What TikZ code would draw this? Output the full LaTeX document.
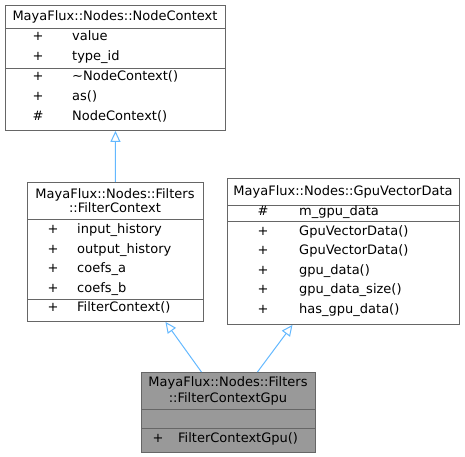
\documentclass[tikz,border=0pt]{standalone}
\usepackage{fontspec}
\setmainfont{DejaVu Sans}
\usetikzlibrary{arrows.meta}
\definecolor{edgeblue}{HTML}{63B8FF}
\definecolor{boxborder}{HTML}{666666}
\definecolor{boxgray}{HTML}{999999}
\tikzset{
  umlbox/.style={draw=boxborder, line width=0.9bp, fill=white, anchor=north west, inner sep=0pt},
  umlsel/.style={umlbox, fill=boxgray},
  sep/.style={draw=boxborder, line width=0.9bp},
  txt/.style={inner sep=0pt, anchor=base west, font=\fontsize{13bp}{15bp}\selectfont},
  vis/.style={inner sep=0pt, anchor=base, font=\fontsize{13bp}{15bp}\selectfont},
  ttl/.style={inner sep=0pt, anchor=base, font=\fontsize{13bp}{15bp}\selectfont},
  inh/.style={draw=edgeblue, line width=1bp, -{Triangle[open, fill=white, length=11bp, width=10bp]}},
}
\begin{document}
\begin{tikzpicture}[x=1bp,y=-1bp]
\useasboundingbox (0,0) rectangle (465,457);
% NodeContext
\node[umlbox, minimum width=220bp, minimum height=125bp] (nc) at (5,5) {};
\draw[sep] (nc.west |- 0,28) -- (nc.east |- 0,28);
\draw[sep] (nc.west |- 0,68) -- (nc.east |- 0,68);
\node[ttl] (nct) at (115,20.5) {MayaFlux::Nodes::NodeContext};
\node[vis] (ncv1) at (38,40.5) {+};
\node[txt] (nca1) at (72,40.5) {value};
\node[vis] (ncv2) at (38,60.5) {+};
\node[txt] (nca2) at (72,60.5) {type\_id};
\node[vis] (ncv3) at (38,81) {+};
\node[txt] (ncm1) at (72,81) {\char"223C NodeContext()};
\node[vis] (ncv4) at (38,101) {+};
\node[txt] (ncm2) at (72,101) {as()};
\node[vis] (ncv5) at (38,121) {\#};
\node[txt] (ncm3) at (72,121) {NodeContext()};
% FilterContext
\node[umlbox, minimum width=176bp, minimum height=139bp] (fc) at (27,182) {};
\draw[sep] (fc.west |- 0,219) -- (fc.east |- 0,219);
\draw[sep] (fc.west |- 0,299) -- (fc.east |- 0,299);
\node[ttl] (fct1) at (115,198.3) {MayaFlux::Nodes::Filters};
\node[ttl] (fct2) at (115,212.7) {::FilterContext};
\node[vis] (fcv1) at (53,233.3) {+};
\node[txt] (fca1) at (77,233.3) {input\_history};
\node[vis] (fcv2) at (53,253.3) {+};
\node[txt] (fca2) at (77,253.3) {output\_history};
\node[vis] (fcv3) at (53,272.8) {+};
\node[txt] (fca3) at (77,272.8) {coefs\_a};
\node[vis] (fcv4) at (53,292.3) {+};
\node[txt] (fca4) at (77,292.3) {coefs\_b};
\node[vis] (fcv5) at (53,311) {+};
\node[txt] (fcm1) at (77,311) {FilterContext()};
% GpuVectorData
\node[umlbox, minimum width=232bp, minimum height=146bp] (gv) at (227,178) {};
\draw[sep] (gv.west |- 0,205) -- (gv.east |- 0,205);
\draw[sep] (gv.west |- 0,221) -- (gv.east |- 0,221);
\node[ttl] (gvt) at (343,196) {MayaFlux::Nodes::GpuVectorData};
\node[vis] (gvv1) at (263,215.5) {\#};
\node[txt] (gva1) at (299,215.5) {m\_gpu\_data};
\node[vis] (gvv2) at (263,235) {+};
\node[txt] (gvm1) at (299,235) {GpuVectorData()};
\node[vis] (gvv3) at (263,254.5) {+};
\node[txt] (gvm2) at (299,254.5) {GpuVectorData()};
\node[vis] (gvv4) at (263,274) {+};
\node[txt] (gvm3) at (299,274) {gpu\_data()};
\node[vis] (gvv5) at (263,293.5) {+};
\node[txt] (gvm4) at (299,293.5) {gpu\_data\_size()};
\node[vis] (gvv6) at (263,313) {+};
\node[txt] (gvm5) at (299,313) {has\_gpu\_data()};
% FilterContextGpu
\node[umlsel, minimum width=174bp, minimum height=80bp] (fg) at (141,372) {};
\draw[sep] (fg.west |- 0,409) -- (fg.east |- 0,409);
\draw[sep] (fg.west |- 0,428) -- (fg.east |- 0,428);
\node[ttl] (fgt1) at (228,386.7) {MayaFlux::Nodes::Filters};
\node[ttl] (fgt2) at (228,402.7) {::FilterContextGpu};
\node[vis] (fgv1) at (158,442.3) {+};
\node[txt] (fgm1) at (178,442.3) {FilterContextGpu()};
% inheritance
\draw[inh] (fc.north) -- (nc.south);
\draw[inh] ([xshift=-27bp]fg.north) -- ([xshift=50bp]fc.south);
\draw[inh] ([xshift=29bp]fg.north) -- ([xshift=-51bp]gv.south);
\end{tikzpicture}
\end{document}
